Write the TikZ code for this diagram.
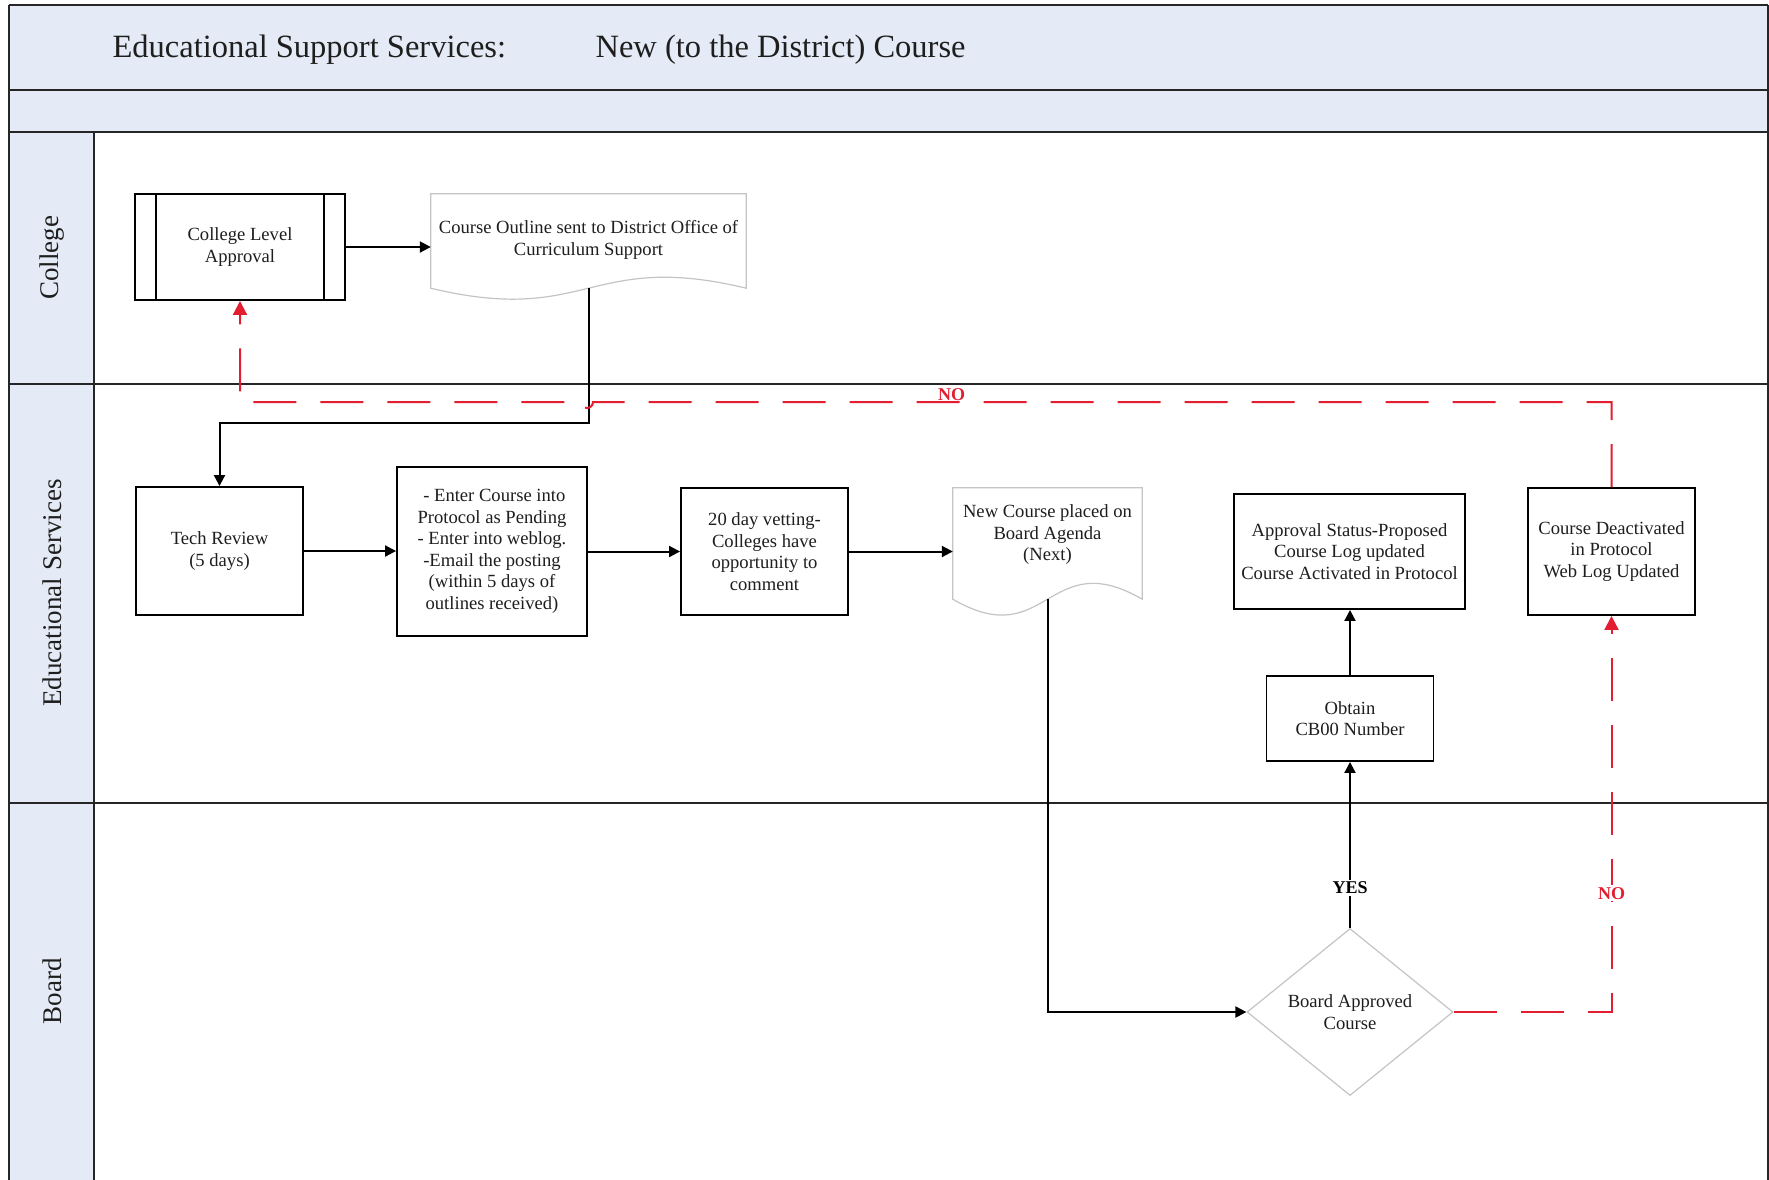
\documentclass[tikz,border=0pt]{standalone}
\usepackage{fontspec}
\setmainfont{Liberation Serif}
\usetikzlibrary{shapes.geometric,arrows.meta,calc}

\definecolor{bandblue}{RGB}{229,235,246}
\definecolor{flowred}{RGB}{226,30,48}
\definecolor{docgray}{RGB}{196,196,196}
\definecolor{inkgray}{RGB}{30,30,30}

\begin{document}
\begin{tikzpicture}[x=1pt,y=-1pt,
  txt/.style={font=\fontsize{18.6}{21.5}\selectfont, align=center, text=inkgray},
  procbox/.style={txt, draw=black, line width=1.9pt, fill=white, inner sep=0pt},
  docshape/.style={inner sep=0pt, txt},
  lanelbl/.style={rotate=90, font=\fontsize{27}{30}\selectfont, text=inkgray},
  lanerule/.style={draw=black!85, line width=1.9pt},
  flow/.style={draw=black, line width=2pt, -{Triangle[length=11pt,width=11pt]}},
  noflow/.style={draw=flowred, line width=2pt, dash pattern=on 43pt off 24pt,
                 -{Triangle[length=14pt,width=14pt]}},
  answer/.style={font=\bfseries\fontsize{18}{20}\selectfont, fill=white, inner sep=2pt}
]
\useasboundingbox (0,0) rectangle (1769,1179);

% ---- swimlane frame ----
\fill[bandblue] (9,5) rectangle (1768,132);
\fill[bandblue] (9,132) rectangle (94,1185);
\draw[lanerule] (9,5) -- (1768,5);
\draw[lanerule] (9,90) -- (1768,90);
\draw[lanerule] (9,132) -- (1768,132);
\draw[lanerule] (9,384) -- (1768,384);
\draw[lanerule] (9,803) -- (1768,803);
\draw[lanerule] (9,5) -- (9,1185);
\draw[lanerule] (94,132) -- (94,1185);
\draw[lanerule] (1768,5) -- (1768,1185);

% ---- headings ----
\node[anchor=base west, font=\fontsize{32.5}{36}\selectfont, text=inkgray] (ttlA) at (109,57.5) {Educational Support Services:};
\node[anchor=base west, font=\fontsize{32.5}{36}\selectfont, text=inkgray] (ttlB) at (592,57.5) {New (to the District) Course};

\node[lanelbl] (laneCollege) at (52,258) {College};
\node[lanelbl] (laneEdu) at (52,593) {Educational Services};
\node[lanelbl] (laneBoard) at (52,991) {Board};

% ---- College lane ----
\node[procbox, minimum width=210pt, minimum height=106pt] (cla) at (240,247) {College Level\\Approval};
\draw[line width=1.9pt] ([xshift=22pt]cla.north west) -- ([xshift=22pt]cla.south west);
\draw[line width=1.9pt] ([xshift=-22pt]cla.north east) -- ([xshift=-22pt]cla.south east);

\node[docshape, minimum width=315pt, minimum height=94pt] (outline) at (588.5,241) {};
\draw[docgray, line width=1.2pt, fill=white]
  (outline.north west) -- (outline.north east) -- (outline.south east)
  .. controls ($(outline.south)+(0,-38)$) and ($(outline.south)+(0,38)$) .. (outline.south west) -- cycle;
\node[txt] (outlineText) at (588.5,240) {Course Outline sent to District Office of\\Curriculum Support};

% ---- Educational Services lane ----
\node[procbox, minimum width=167pt, minimum height=128pt] (tech) at (219.5,551) {Tech Review\\(5 days)};
\node[procbox, minimum width=190pt, minimum height=169pt] (enter) at (492,551.5)
  {\ - Enter Course into\\Protocol as Pending\\- Enter into weblog.\\-Email the posting\\(within 5 days of\\outlines received)};
\node[procbox, minimum width=167pt, minimum height=127pt] (vet) at (764.5,551.5)
  {20 day vetting-\\Colleges have\\opportunity to\\comment};

\node[docshape, minimum width=189pt, minimum height=111pt] (newc) at (1047.5,543.5) {};
\draw[docgray, line width=1.2pt, fill=white]
  (newc.north west) -- (newc.north east) -- (newc.south east)
  .. controls ($(newc.south)+(0,-55)$) and ($(newc.south)+(0,55)$) .. (newc.south west) -- cycle;
\node[txt] (newcText) at (1047.5,535) {New Course placed on\\Board Agenda\\(Next)};

\node[procbox, minimum width=231pt, minimum height=115pt] (approve) at (1349.5,551.5)
  {Approval Status-Proposed\\Course Log updated\\Course Activated in Protocol};
\node[procbox, minimum width=167pt, minimum height=127pt] (deact) at (1611.5,551.5)
  {Course Deactivated\\in Protocol\\Web Log Updated};
\node[procbox, minimum width=167pt, minimum height=85pt] (cbnum) at (1350,718.5)
  {Obtain\\CB00 Number};

% ---- Board lane ----
\node[diamond, draw=docgray, line width=1.2pt, fill=white, txt, inner sep=0pt,
      aspect=1.23, minimum width=206pt, minimum height=167pt] (board) at (1350,1012)
  {Board Approved\\Course};

% ---- connectors ----
\draw[flow] (cla.east) -- (cla.east -| outline.west);
\draw[flow] (outline.south) |- ([yshift=63pt]tech.north) -- (tech.north);
\draw[flow] (tech.east) -- (tech.east -| enter.west);
\draw[flow] (enter.east) -- (enter.east -| vet.west);
\draw[flow] (vet.east) -- (vet.east -| newc.west);
\draw[flow] (newc.south) |- (board.west);
\draw[flow] (board.north) -- node[answer, pos=0.24] (yes) {YES} (cbnum.south);
\draw[flow] (cbnum.north) -- (cbnum.north |- approve.south);

% rejected: back to the colleges
\draw[noflow] (board.east) -| node[answer, text=flowred, pos=0.65] (noB) {NO} (deact.south);
\coordinate (hopR) at (593,402);
\draw[noflow] (deact.north) |- (hopR)
  arc[start angle=0, end angle=-180, radius=6pt] -- (cla.south |- hopR) -- (cla.south);
\node[anchor=south west, font=\bfseries\fontsize{18}{20}\selectfont, text=flowred, inner sep=0pt]
  (noA) at (938,401) {NO};
\end{tikzpicture}
\end{document}
